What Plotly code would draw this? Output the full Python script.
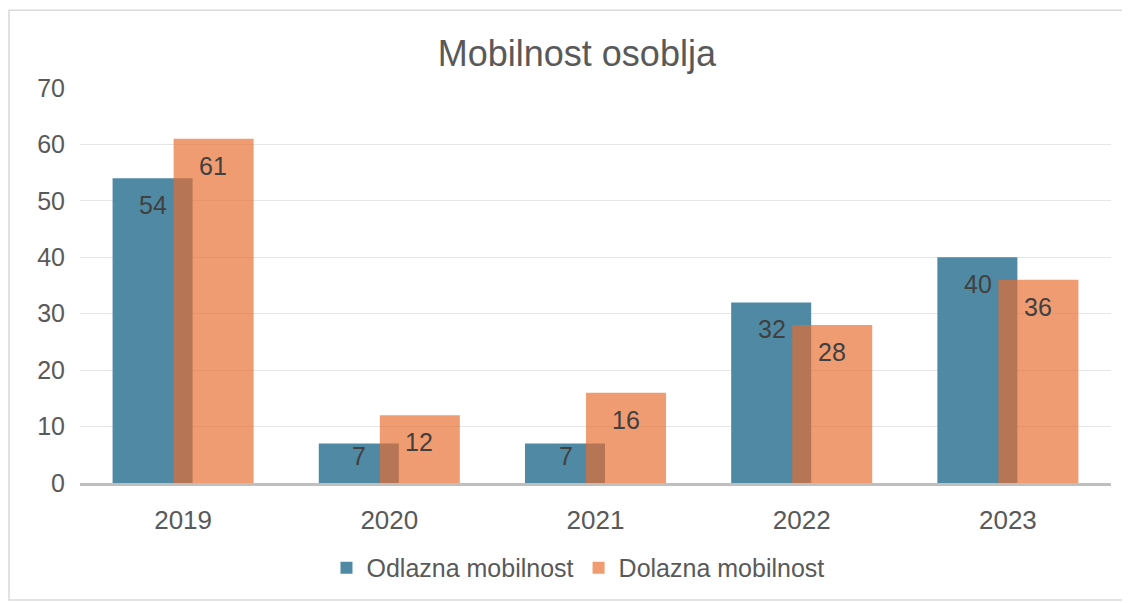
import plotly.graph_objects as go

years = ["2019", "2020", "2021", "2022", "2023"]
odlazna = [54, 7, 7, 32, 40]
dolazna = [61, 12, 16, 28, 36]

BLUE = "#5089A3"
ORANGE = "rgba(233,107,45,0.67)"
GREY = "#595959"
FONT = "Liberation Sans, Arial, sans-serif"

idx = list(range(len(years)))

fig = go.Figure()
fig.add_trace(go.Bar(
    x=idx, y=odlazna, name="Odlazna mobilnost",
    marker=dict(color=BLUE, line=dict(width=0)),
    width=0.388, offset=-0.342,
))
fig.add_trace(go.Bar(
    x=idx, y=dolazna, name="Dolazna mobilnost",
    marker=dict(color=ORANGE, line=dict(width=0)),
    width=0.388, offset=-0.046,
))

# data labels near the inside end of each bar
for series, shift in ((odlazna, -30), (dolazna, 30)):
    for i, v in zip(idx, series):
        fig.add_annotation(
            x=i, y=v, xref="x", yref="y",
            text=str(v), showarrow=False,
            xshift=shift, yshift=-27 if v > 10 else -12,
            yanchor="middle",
            font=dict(size=25, color="#404040", family=FONT),
        )

# chart frame
fig.add_shape(
    type="rect", xref="paper", yref="paper",
    x0=-0.0689, x1=1.0165, y0=-0.296, y1=1.197,
    line=dict(color="#D9D9D9", width=1.5),
    fillcolor="rgba(0,0,0,0)", layer="below",
)

# page body adds an 8px margin, so the figure is drawn 8px smaller
fig.update_layout(
    width=1122, height=595,
    barmode="overlay",
    paper_bgcolor="white",
    plot_bgcolor="white",
    font=dict(family=FONT, size=25, color=GREY),
    title=dict(
        text="Mobilnost osoblja",
        x=0.507, xref="container", xanchor="center",
        y=0.924, yref="container", yanchor="middle",
        font=dict(size=36, color=GREY, family=FONT),
    ),
    margin=dict(l=72, r=19, t=80, b=120),
    showlegend=True,
    legend=dict(
        orientation="h", x=0.483, xanchor="center",
        y=-0.215, yanchor="middle",
        font=dict(size=25, color=GREY),
        itemwidth=30,
    ),
    xaxis=dict(
        tickmode="array", tickvals=idx, ticktext=years,
        range=[-0.5, 4.5],
        showline=True, linecolor="#BFBFBF", linewidth=3,
        showgrid=False, zeroline=False,
        ticks="", ticklabelstandoff=12,
        tickfont=dict(size=26, color=GREY),
    ),
    yaxis=dict(
        range=[0, 70], dtick=10,
        showgrid=True, gridcolor="#E6E6E6", gridwidth=1,
        zeroline=False, showline=False,
        ticks="", ticklabelstandoff=14,
        tickfont=dict(size=25, color=GREY),
    ),
)

fig.write_html("out.html")
